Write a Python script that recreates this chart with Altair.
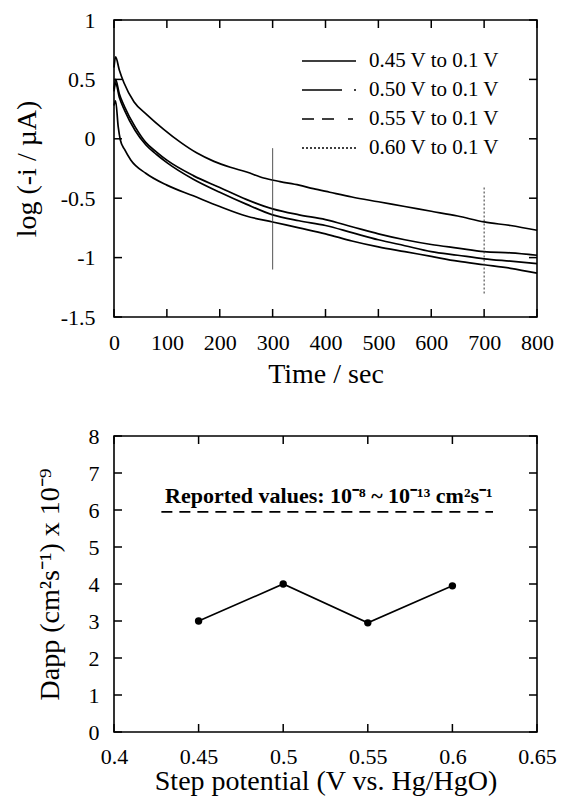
import altair as alt
import pandas as pd

FONT = "Liberation Serif"

# ---------------- top panel data ----------------
series_labels = ["0.45 V to 0.1 V", "0.50 V to 0.1 V", "0.55 V to 0.1 V", "0.60 V to 0.1 V"]

time_a = [0, 3, 10, 19, 38, 63, 94, 126, 157, 189, 220, 251, 283, 314, 350, 377, 408, 450, 500, 550, 600, 650, 700, 750, 800]
logi_a = [0.60, 0.69, 0.58, 0.47, 0.31, 0.20, 0.08, -0.03, -0.12, -0.19, -0.24, -0.28, -0.33, -0.36, -0.39, -0.42, -0.45, -0.49, -0.53, -0.57, -0.61, -0.65, -0.70, -0.73, -0.77]

time_b = [0, 3, 10, 20, 40, 60, 80, 100, 150, 200, 250, 300, 350, 400, 450, 500, 550, 600, 650, 700, 750, 800]
logi_b = [0.42, 0.50, 0.38, 0.27, 0.10, -0.03, -0.11, -0.18, -0.31, -0.41, -0.51, -0.59, -0.64, -0.68, -0.74, -0.80, -0.85, -0.89, -0.92, -0.95, -0.96, -0.98]

time_c = [0, 3, 10, 20, 40, 60, 80, 100, 150, 200, 250, 300, 350, 400, 450, 500, 550, 600, 650, 700, 750, 800]
logi_c = [0.40, 0.47, 0.35, 0.24, 0.07, -0.05, -0.13, -0.20, -0.34, -0.45, -0.55, -0.64, -0.69, -0.73, -0.79, -0.85, -0.90, -0.95, -0.98, -1.01, -1.03, -1.05]

time_d = [0, 3, 8, 12, 20, 32, 60, 100, 150, 200, 250, 300, 350, 400, 450, 500, 550, 600, 650, 700, 750, 800]
logi_d = [0.28, 0.32, 0.10, -0.01, -0.09, -0.18, -0.29, -0.39, -0.48, -0.57, -0.65, -0.70, -0.75, -0.80, -0.86, -0.91, -0.95, -0.99, -1.03, -1.06, -1.09, -1.13]

marker_t = [300, 700]
marker_top = [-0.08, -0.41]
marker_bot = [-1.10, -1.31]
marker_dash = [[1, 0], [2, 2]]

top_xdomain = [0, 800]
top_ydomain = [-1.5, 1]
top_xticks = [0, 100, 200, 300, 400, 500, 600, 700, 800]
top_yticks = [1, 0.5, 0, -0.5, -1, -1.5]

legend_dashes = [[1, 0], [40, 12, 3, 100], [12, 8, 12, 14, 5, 100], [2, 2]]

# ---------------- bottom panel data ----------------
step_potential = [0.45, 0.5, 0.55, 0.6]
dapp = [3.0, 4.0, 2.95, 3.95]
bot_xdomain = [0.4, 0.65]
bot_ydomain = [0, 8]
bot_xticks = [0.4, 0.45, 0.5, 0.55, 0.6, 0.65]
bot_yticks = [0, 1, 2, 3, 4, 5, 6, 7, 8]
reported_text = "Reported values: 10\u207b\u2078 ~ 10\u207b\u00b9\u00b3 cm\u00b2s\u207b\u00b9"
reported_x = [0.428, 0.624]
reported_y = 5.95
reported_text_x = 0.527
reported_text_y = 6.39

# ---------------- layout constants ----------------
W1, H1 = 423, 297
W2, H2 = 423, 296
TICK = 8  # inward tick length, px

lab_expr = "datum.value + ''"
axis_style = dict(labelFont=FONT, labelFontSize=22, labelColor="black", labelFlush=False, labelOverlap=False,
                  titleFont=FONT, titleFontSize=28, titleFontWeight="normal", titleColor="black",
                  domain=False, ticks=False, tickSize=0, grid=False, labelExpr=lab_expr)


def tick_rule_layers(xs, ys, xdom, ydom, xvals, yvals, W, H):
    """Inward ticks on all four frame edges, drawn as rules in data space."""
    ddx = (xdom[1] - xdom[0]) * TICK / W
    ddy = (ydom[1] - ydom[0]) * TICK / H
    bx = pd.DataFrame({"x": xvals, "y": [ydom[0]] * len(xvals), "y2": [ydom[0] + ddy] * len(xvals)})
    tx = pd.DataFrame({"x": xvals, "y": [ydom[1]] * len(xvals), "y2": [ydom[1] - ddy] * len(xvals)})
    ly = pd.DataFrame({"y": yvals, "x": [xdom[0]] * len(yvals), "x2": [xdom[0] + ddx] * len(yvals)})
    ry = pd.DataFrame({"y": yvals, "x": [xdom[1]] * len(yvals), "x2": [xdom[1] - ddx] * len(yvals)})
    kw = dict(color="black", strokeWidth=1.5)
    out = []
    for d in (bx, tx):
        out.append(alt.Chart(d).mark_rule(**kw).encode(
            x=alt.X("x:Q", scale=xs, axis=None), y=alt.Y("y:Q", scale=ys, axis=None), y2="y2:Q"))
    for d in (ly, ry):
        out.append(alt.Chart(d).mark_rule(**kw).encode(
            y=alt.Y("y:Q", scale=ys, axis=None), x=alt.X("x:Q", scale=xs, axis=None), x2="x2:Q"))
    return out


# ---------------- build top ----------------
rows = []
for lab, ts, vs in zip(series_labels, [time_d, time_c, time_b, time_a], [logi_d, logi_c, logi_b, logi_a]):
    for t, v in zip(ts, vs):
        rows.append({"series": lab, "x": t, "y": v})
curves = pd.DataFrame(rows)

xs1 = alt.Scale(domain=top_xdomain, nice=False, zero=False)
ys1 = alt.Scale(domain=top_ydomain, nice=False, zero=False)

lines = alt.Chart(curves).mark_line(color="black", strokeWidth=1.7, interpolate="monotone").encode(
    x=alt.X("x:Q", scale=xs1, axis=alt.Axis(orient="bottom", values=top_xticks, title="Time / sec",
                                             labelPadding=15, titlePadding=7, **axis_style)),
    y=alt.Y("y:Q", scale=ys1, axis=alt.Axis(orient="left", values=top_yticks, title="log (-i / \u00b5A)",
                                             labelPadding=19, titlePadding=19, **axis_style)),
    detail="series:N",
)

markers = alt.Chart(pd.DataFrame({"x": marker_t, "y": marker_top, "y2": marker_bot, "d": [str(d) for d in marker_dash]})).mark_rule(
    color="#333", strokeWidth=1
).encode(
    x=alt.X("x:Q", scale=xs1, axis=None),
    y=alt.Y("y:Q", scale=ys1, axis=None),
    y2="y2:Q",
    strokeDash=alt.StrokeDash("d:N", scale=alt.Scale(domain=[str(d) for d in marker_dash], range=marker_dash), legend=None),
)

legend_layers = []
LEG_X0, LEG_X1, LEG_TX, LEG_Y0, LEG_DY = 188, 242, 255, 41, 29
for i, (lab, dash) in enumerate(zip(series_labels, legend_dashes)):
    d1 = pd.DataFrame({"label": [lab]})
    yy = LEG_Y0 + i * LEG_DY
    legend_layers.append(
        alt.Chart(d1).mark_rule(color="black", strokeWidth=1.5, strokeDash=dash).encode(
            x=alt.value(LEG_X0), x2=alt.value(LEG_X1), y=alt.value(yy)
        )
    )
    legend_layers.append(
        alt.Chart(d1).mark_text(align="left", baseline="middle", font=FONT, fontSize=21, color="black").encode(
            x=alt.value(LEG_TX), y=alt.value(yy), text="label:N"
        )
    )

top = alt.layer(
    lines, markers, *tick_rule_layers(xs1, ys1, top_xdomain, top_ydomain, top_xticks, top_yticks, W1, H1), *legend_layers
).resolve_axis(x="independent", y="independent").properties(width=W1, height=H1)

# ---------------- build bottom ----------------
xs2 = alt.Scale(domain=bot_xdomain, nice=False, zero=False)
ys2 = alt.Scale(domain=bot_ydomain, nice=False, zero=False)

dd = pd.DataFrame({"x": step_potential, "y": dapp})
dline = alt.Chart(dd).mark_line(color="black", strokeWidth=1.6).encode(
    x=alt.X("x:Q", scale=xs2, axis=alt.Axis(orient="bottom", values=bot_xticks, title="Step potential (V vs. Hg/HgO)",
                                             labelPadding=14, titlePadding=0, **axis_style)),
    y=alt.Y("y:Q", scale=ys2, axis=alt.Axis(orient="left", values=bot_yticks, title="Dapp (cm\u00b2s\u207b\u00b9) x 10\u207b\u2079",
                                             labelPadding=15, titlePadding=24, **axis_style)),
)
dpts = alt.Chart(dd).mark_circle(color="black", size=55, opacity=1).encode(
    x=alt.X("x:Q", scale=xs2, axis=None), y=alt.Y("y:Q", scale=ys2, axis=None)
)
ref_line = alt.Chart(pd.DataFrame({"x": [reported_x[0]], "x2": [reported_x[1]], "y": [reported_y]})).mark_rule(
    color="black", strokeWidth=1.8, strokeDash=[11, 7]
).encode(x=alt.X("x:Q", scale=xs2, axis=None), x2="x2:Q", y=alt.Y("y:Q", scale=ys2, axis=None))
ref_text = alt.Chart(pd.DataFrame({"x": [reported_text_x], "y": [reported_text_y], "t": [reported_text]})).mark_text(
    font=FONT, fontSize=22, fontWeight="bold", color="black", baseline="middle", align="center"
).encode(x=alt.X("x:Q", scale=xs2, axis=None), y=alt.Y("y:Q", scale=ys2, axis=None), text="t:N")

bottom = alt.layer(
    dline, dpts, ref_line, ref_text, *tick_rule_layers(xs2, ys2, bot_xdomain, bot_ydomain, bot_xticks, bot_yticks, W2, H2)
).resolve_axis(x="independent", y="independent").properties(width=W2, height=H2)

chart = alt.vconcat(top, bottom, spacing=35).properties(
    padding={"left": 4, "top": 0, "right": 0, "bottom": 0}
).configure_view(stroke="black", strokeWidth=1.6)

chart.save("out.html", embed_options={"renderer": "svg", "actions": False})
